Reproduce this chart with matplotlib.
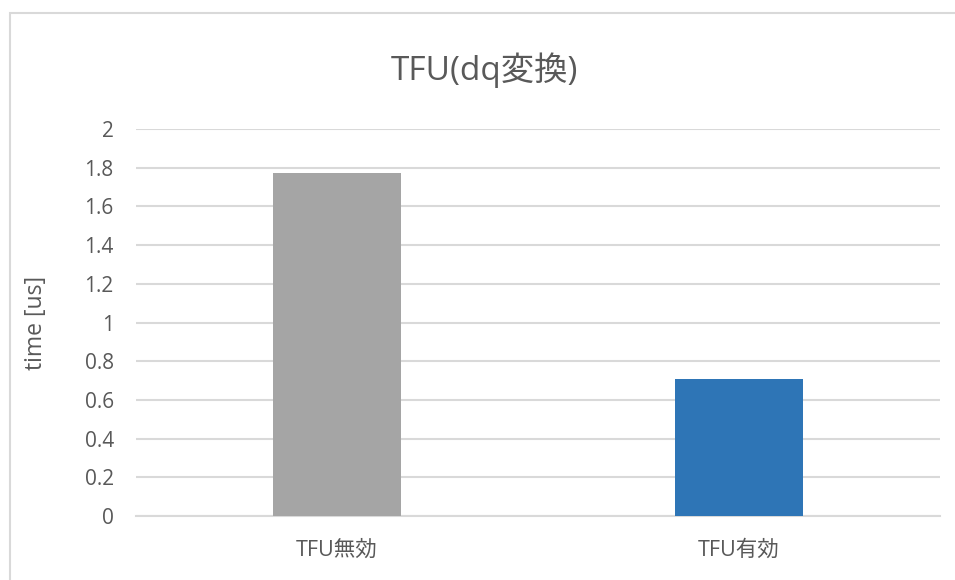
import matplotlib
matplotlib.use("Agg")
import matplotlib.pyplot as plt
from matplotlib.patches import Rectangle

plt.rcParams['font.family'] = ['Open Sans', 'Noto Sans CJK JP', 'DejaVu Sans']

# data
categories = ["TFU無効", "TFU有効"]
times = [1.773, 0.708]
colors = ["#A5A5A5", "#2E75B6"]
yticks = [0, 0.2, 0.4, 0.6, 0.8, 1, 1.2, 1.4, 1.6, 1.8, 2]
ytick_labels = ["0", "0.2", "0.4", "0.6", "0.8", "1", "1.2", "1.4", "1.6", "1.8", "2"]

text_color = "#595959"
grid_color = "#D9D9D9"

fig = plt.figure(figsize=(9.55, 5.8), dpi=100)
ax = fig.add_axes([0.1424, 0.1103, 0.8419, 0.6673])

# chart border (runs past right/bottom edges like the source)
fig.patches.append(Rectangle((9.5 / 955, -0.1), 1.2, 1 - 13.5 / 580 + 0.1,
                             transform=fig.transFigure, fill=False,
                             edgecolor=grid_color, linewidth=1.5))

x = range(len(categories))
ax.bar(x, times, width=0.316, color=colors, zorder=3)

ax.set_xlim(-0.5, len(categories) - 0.5)
ax.set_ylim(0, 2)
ax.set_yticks(yticks)
ax.set_yticklabels(ytick_labels)
ax.set_xticks(list(x))
ax.set_xticklabels(categories)

ax.yaxis.grid(True, color=grid_color, linewidth=1.5, zorder=0)
for s in ["top", "right", "left"]:
    ax.spines[s].set_visible(False)
ax.spines["bottom"].set_color(grid_color)
ax.spines["bottom"].set_linewidth(1.5)
ax.tick_params(axis="both", length=0, colors=text_color)
ax.tick_params(axis="y", pad=16, labelsize=15)
ax.tick_params(axis="x", pad=17, labelsize=15.5)

fig.text(36 / 955, 1 - 323 / 580, "time [us]", rotation=90, ha="center",
         va="center", fontsize=16.5, color=text_color)
fig.text(484 / 955, 1 - 70 / 580, "TFU(dq変換)", ha="center", va="center",
         fontsize=24, color=text_color)

fig.savefig("out.png", dpi=100)
